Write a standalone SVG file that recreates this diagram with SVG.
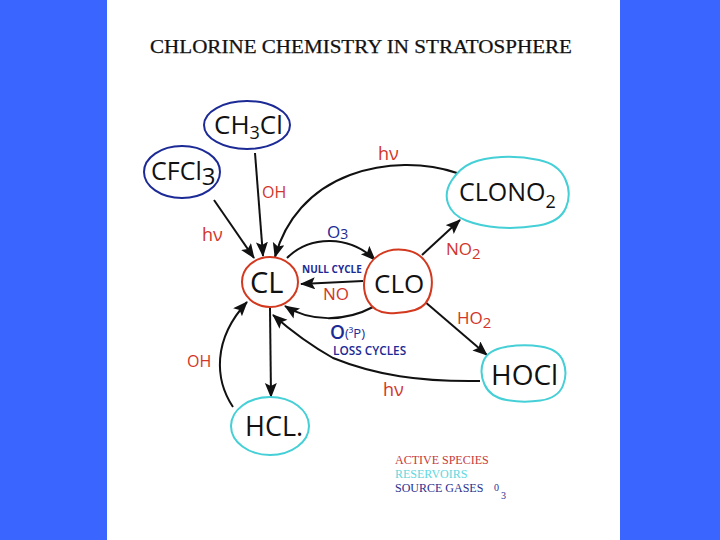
<svg xmlns="http://www.w3.org/2000/svg" width="720" height="540" viewBox="0 0 720 540">
<style>
.n{fill:#fff;stroke-width:2}
.src{stroke:#1c2a96}.act{stroke:#d2391f}.res{stroke:#45cfd6}
.f{font-family:"Open Sans","Liberation Sans",sans-serif;fill:#111}
.r{font-family:"Open Sans","Liberation Sans",sans-serif;fill:#d2352a}
.b{font-family:"Open Sans","Liberation Sans",sans-serif;fill:#1c2a96}
.l{font-family:"Liberation Serif",serif;font-size:12px}
.c path{fill:none;stroke:#111;stroke-width:2;marker-end:url(#a)}
</style>
<defs><marker id="a" markerUnits="userSpaceOnUse" markerWidth="16" markerHeight="14" refX="14" refY="6" orient="auto"><path d="M0 0L15 6L0 12L3 6Z" style="fill:#111;stroke:none;marker-end:none"/></marker></defs>
<rect width="720" height="540" fill="#3a66ff"/>
<rect x="107" width="513" height="540" fill="#fff"/>
<text x="150" y="53" font-family="Liberation Serif,serif" font-size="18.5" fill="#111" stroke="#111" stroke-width=".25" textLength="422" lengthAdjust="spacingAndGlyphs">CHLORINE CHEMISTRY IN STRATOSPHERE</text>
<g id="connectors" class="c">
<path d="M255 153L263 256"/>
<path d="M214 200L254 258"/>
<path d="M457 173C425 162 385 162 350 175C310 190 285 220 275 257"/>
<path d="M287 258C310 235 350 235 375 260"/>
<path d="M363 281L301 284"/>
<path d="M422 255L460 220"/>
<path d="M424 301L487 355"/>
<path d="M373 307C345 322 310 322 285 306"/>
<path d="M480 381C420 382 375 375 333 358C310 345 290 330 273 315"/>
<path d="M270 308L271 397"/>
<path d="M233 407C215 380 212 340 247 302"/>
</g>
<g id="ch3cl"><ellipse class="n src" cx="247" cy="125" rx="43" ry="24"/><text class="f" x="214" y="134" font-size="26">CH<tspan font-size="18" dy="5">3</tspan><tspan dy="-5">Cl</tspan></text></g>
<g id="cfcl3"><ellipse class="n src" cx="182" cy="172" rx="38" ry="26"/><text class="f" x="151" y="180" font-size="25">CFCl<tspan font-size="24" dy="5">3</tspan></text></g>
<g id="cl"><ellipse class="n act" cx="270" cy="282" rx="28" ry="25"/><text class="f" x="250" y="293" font-size="29">CL</text></g>
<g id="clo"><path class="n act" d="M405 250Q390 248 379 255Q368 262 365 276Q362 290 368 301Q374 312 388 313Q402 314 415 310Q428 306 431 291Q434 276 427 264Q420 252 405 250Z"/><text class="f" x="374" y="293" font-size="26">CLO</text></g>
<g id="clono2"><path class="n res" d="M452 180Q460 168 471.5 163Q483 158 501.5 157Q520 156 539 160Q558 164 565 178.5Q572 193 566 207.5Q560 222 538.5 225.5Q517 229 498.5 227.5Q480 226 466 220.5Q452 215 448 203.5Q444 192 452 180Z"/><text class="f" x="459" y="201" font-size="25">CLONO<tspan font-size="18" dy="7">2</tspan></text></g>
<g id="hocl"><path class="n res" d="M483.5 361Q488 350 505.5 347Q523 344 540.5 346.5Q558 349 563 361Q568 373 563 385.5Q558 398 540.5 400.5Q523 403 506.5 400Q490 397 484.5 384.5Q479 372 483.5 361Z"/><text class="f" x="491" y="385" font-size="28">HOCl</text></g>
<g id="hcl"><ellipse class="n res" cx="270" cy="426" rx="39" ry="29"/><text class="f" x="245" y="436" font-size="27">HCL.</text></g>
<g id="labels">
<text class="r" x="202" y="241" font-size="18">hν</text>
<text class="r" x="262" y="198" font-size="16">OH</text>
<text class="r" x="378" y="160" font-size="18">hν</text>
<text class="r" x="446" y="255" font-size="17">NO<tspan font-size="15" dy="4">2</tspan></text>
<text class="r" x="457" y="324" font-size="17">HO<tspan font-size="15" dy="4">2</tspan></text>
<text class="r" x="187" y="367" font-size="16">OH</text>
<text class="r" x="383" y="396" font-size="18">hν</text>
<text class="r" x="323" y="300" font-size="17">NO</text>
<text class="b" x="327" y="238" font-size="17">O<tspan font-size="14" dy="1">3</tspan></text>
<text class="b" x="302" y="273" font-size="10" font-weight="700">NULL CYCLE</text>
<text class="b" x="330" y="339" font-size="19" font-weight="600">O<tspan font-size="13" dy="-1" font-weight="400">(³P)</tspan></text>
<text class="b" x="333" y="355" font-size="11.8" font-weight="600">LOSS CYCLES</text>
</g>
<g id="legend">
<text class="l" x="395" y="464" fill="#c8383a">ACTIVE SPECIES</text>
<text class="l" x="395" y="478" fill="#5fd8de">RESERVOIRS</text>
<text class="l" x="395" y="492" fill="#2a2f8f">SOURCE GASES</text>
<text class="l" x="494" y="491" fill="#2a2f8f" style="font-size:10px">0</text>
<text class="l" x="501" y="499" fill="#2a2f8f" style="font-size:10px">3</text>
</g>
</svg>
